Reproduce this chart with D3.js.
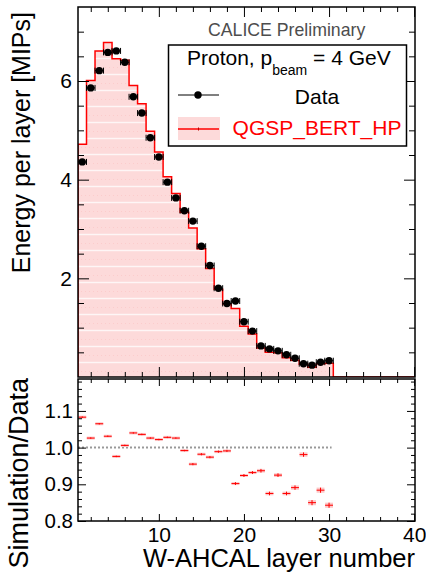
<!DOCTYPE html>
<html><head><meta charset="utf-8">
<script src="https://cdn.jsdelivr.net/npm/d3@7"></script>
<style>body{margin:0;background:#fff}svg{display:block}</style>
</head><body>
<svg id="c" width="426" height="576"></svg>
<script>
// ---- data ----
const layers = [1,2,3,4,5,6,7,8,9,10,11,12,13,14,15,16,17,18,19,20,21,22,23,24,25,26,27,28,29,30];
const dataValues = [4.36,5.86,6.21,6.58,6.61,6.38,5.68,5.35,4.85,4.46,3.95,3.63,3.37,3.16,2.65,2.26,1.80,1.49,1.54,1.12,0.93,0.63,0.57,0.53,0.45,0.38,0.27,0.24,0.30,0.33];
const mcValues = [4.72,6.01,6.61,6.78,6.45,6.42,5.91,5.54,4.98,4.56,4.06,3.72,3.34,3.02,2.60,2.20,1.78,1.48,1.39,1.03,0.87,0.59,0.50,0.49,0.39,0.34,0.26,0.20,0.27,0.28];
const ratioValues = [1.083,1.026,1.065,1.031,0.976,1.006,1.040,1.036,1.026,1.022,1.028,1.026,0.992,0.955,0.982,0.974,0.989,0.991,0.902,0.924,0.932,0.937,0.875,0.925,0.875,0.891,0.981,0.850,0.884,0.843];
const ratioErrors = [0.002,0.002,0.002,0.002,0.002,0.002,0.002,0.002,0.002,0.002,0.002,0.002,0.002,0.003,0.003,0.003,0.003,0.003,0.004,0.004,0.004,0.005,0.005,0.005,0.005,0.006,0.006,0.007,0.007,0.007];
const yTopMajor = [2,4,6];
const yTopMinor = [0.5,1,1.5,2.5,3,3.5,4.5,5,5.5,6.5,7];
const yLowMajor = [0.8,0.9,1.0,1.1];
const yLowMinor = [0.82,0.84,0.86,0.88,0.92,0.94,0.96,0.98,1.02,1.04,1.06,1.08,1.12,1.14,1.16,1.18];
const xMajor = [10,20,30,40];
const xMinor = [2,4,6,8,12,14,16,18,22,24,26,28,32,34,36,38];

const FONT = "'Liberation Sans', Arial, Helvetica, sans-serif";
const svg = d3.select("#c");
const L = 78, R = 415, T1 = 7, B1 = 377, T2 = 379, B2 = 521;

const x = d3.scaleLinear().domain([0.5, 40.1]).range([L, R]);
const yTop = d3.scaleLinear().domain([0, 7.5]).range([B1, T1]);
const yLow = d3.scaleLinear().domain([0.8, 1.187]).range([B2, T2]);

// pattern fill
const defs = svg.append("defs");
const pat = defs.append("pattern").attr("id","hatch").attr("patternUnits","userSpaceOnUse")
  .attr("width",4).attr("height",16).attr("y",0);
pat.append("rect").attr("width",4).attr("height",16).attr("fill","#fddada");
pat.append("rect").attr("x",0).attr("y",9.8).attr("width",4).attr("height",1.4).attr("fill","#ffffff").attr("opacity",0.75);
pat.append("rect").attr("x",1).attr("y",3).attr("width",1).attr("height",1).attr("fill","#fccccc");
defs.append("clipPath").attr("id","clipTop").append("rect").attr("x",L).attr("y",T1).attr("width",R-L).attr("height",B1-T1);

// ---- top panel ----
const gTop = svg.append("g").attr("clip-path","url(#clipTop)");
const histPts = layers.map((l,i)=>[l-0.5, mcValues[i]]);
histPts.push([layers[layers.length-1]+0.5, mcValues[mcValues.length-1]]);
const area = d3.area().curve(d3.curveStepAfter)
  .x(d=>x(d[0])).y0(yTop(0)).y1(d=>yTop(d[1]));
gTop.append("path").attr("d", area(histPts)).attr("fill","url(#hatch)");
const linePts = [[0.5,0]].concat(layers.map((l,i)=>[l-0.5, mcValues[i]]));
linePts.push([30.5,0]); linePts.push([40.1,0]);
const line = d3.line().curve(d3.curveStepAfter).x(d=>x(d[0])).y(d=>yTop(d[1]));
gTop.append("path").attr("d", line(linePts)).attr("fill","none").attr("stroke","#ff0000").attr("stroke-width",1.5);

// data points
const pts = gTop.append("g");
layers.forEach((l,i)=>{
  const cx = x(l), cy = yTop(dataValues[i]);
  const x0 = x(l-0.5), x1 = x(l+0.5);
  pts.append("line").attr("x1",x0).attr("x2",x1).attr("y1",cy).attr("y2",cy).attr("stroke","#000").attr("stroke-width",1);
  [x0,x1].forEach(xx=>pts.append("line").attr("x1",xx).attr("x2",xx).attr("y1",cy-3).attr("y2",cy+3).attr("stroke","#000").attr("stroke-width",1));
  pts.append("circle").attr("cx",cx).attr("cy",cy).attr("r",3.7).attr("fill","#000");
});

// axes for top panel
function styleAxis(g, fs){
  g.select(".domain").remove();
  g.selectAll(".tick line").attr("stroke","#000").attr("stroke-width",1);
  g.selectAll("text").attr("font-family",FONT).attr("font-size",fs).attr("fill","#000");
}
svg.append("g").attr("transform",`translate(${L},0)`)
  .call(d3.axisLeft(yTop).tickValues(yTopMajor).tickSize(-11).tickPadding(6).tickFormat(d3.format("d")))
  .call(g=>styleAxis(g,21));
svg.append("g").attr("transform",`translate(${L},0)`)
  .call(d3.axisLeft(yTop).tickValues(yTopMinor).tickSize(-6).tickFormat("")).call(g=>styleAxis(g,21));
svg.append("g").attr("transform",`translate(${R},0)`)
  .call(d3.axisRight(yTop).tickValues(yTopMajor).tickSize(-11).tickFormat("")).call(g=>styleAxis(g,21));
svg.append("g").attr("transform",`translate(${R},0)`)
  .call(d3.axisRight(yTop).tickValues(yTopMinor).tickSize(-6).tickFormat("")).call(g=>styleAxis(g,21));
svg.append("g").attr("transform",`translate(0,${B1})`)
  .call(d3.axisBottom(x).tickValues(xMajor).tickSize(-10).tickFormat("")).call(g=>styleAxis(g,21));
svg.append("g").attr("transform",`translate(0,${B1})`)
  .call(d3.axisBottom(x).tickValues(xMinor).tickSize(-5).tickFormat("")).call(g=>styleAxis(g,21));
svg.append("g").attr("transform",`translate(0,${T1})`)
  .call(d3.axisTop(x).tickValues(xMajor).tickSize(-10).tickFormat("")).call(g=>styleAxis(g,21));
svg.append("g").attr("transform",`translate(0,${T1})`)
  .call(d3.axisTop(x).tickValues(xMinor).tickSize(-5).tickFormat("")).call(g=>styleAxis(g,21));

svg.append("rect").attr("x",L).attr("y",T1).attr("width",R-L).attr("height",B1-T1)
  .attr("fill","none").attr("stroke","#000").attr("stroke-width",1.5);

// CALICE Preliminary
svg.append("text").attr("x",208).attr("y",36).attr("font-family",FONT).attr("font-size",17.7)
  .attr("fill","#4d4d4d").text("CALICE Preliminary");

// legend
const lg = svg.append("g");
lg.append("rect").attr("x",168.5).attr("y",45).attr("width",238).attr("height",101)
  .attr("fill","#fff").attr("stroke","#000").attr("stroke-width",1.5);
const t1 = lg.append("text").attr("x",187).attr("y",65).attr("font-family",FONT).attr("font-size",21).attr("fill","#000");
t1.append("tspan").text("Proton, p");
t1.append("tspan").attr("font-size",14).attr("dy",10).text("beam");
t1.append("tspan").attr("dy",-10).text(" = 4 GeV");
lg.append("line").attr("x1",178).attr("x2",219).attr("y1",95).attr("y2",95).attr("stroke","#000").attr("stroke-width",1);
lg.append("circle").attr("cx",198).attr("cy",95).attr("r",3.7).attr("fill","#000");
lg.append("text").attr("x",317).attr("y",103.5).attr("text-anchor","middle").attr("font-family",FONT).attr("font-size",21).attr("fill","#000").text("Data");
lg.append("rect").attr("x",178).attr("y",117).attr("width",42).attr("height",23).attr("fill","#fddada");
lg.append("line").attr("x1",178).attr("x2",219).attr("y1",129).attr("y2",129).attr("stroke","#ff0000").attr("stroke-width",1.5);
lg.append("line").attr("x1",198.5).attr("x2",198.5).attr("y1",127.5).attr("y2",130.5).attr("stroke","#b00").attr("stroke-width",1);
lg.append("text").attr("x",317).attr("y",134.5).attr("text-anchor","middle").attr("font-family",FONT).attr("font-size",21).attr("fill","#ff0000").text("QGSP_BERT_HP");

// ---- lower panel ----
svg.append("line").attr("x1",x(0.5)).attr("x2",x(30.3)).attr("y1",yLow(1)).attr("y2",yLow(1))
  .attr("stroke","#999").attr("stroke-width",2).attr("stroke-dasharray","2,2");
const rg = svg.append("g");
layers.forEach((l,i)=>{
  const x0 = x(l-0.5)+0.3, x1 = x(l+0.5)-0.3, cy = yLow(ratioValues[i]);
  const e = Math.abs(yLow(ratioValues[i]+ratioErrors[i]) - cy);
  rg.append("rect").attr("x",x0).attr("y",cy-Math.max(e,1.5)).attr("width",x1-x0).attr("height",2*Math.max(e,1.5)).attr("fill","#fcc8c8");
  rg.append("line").attr("x1",x0).attr("x2",x1).attr("y1",cy).attr("y2",cy).attr("stroke","#ff0000").attr("stroke-width",1);
  rg.append("line").attr("x1",x(l)).attr("x2",x(l)).attr("y1",cy-e).attr("y2",cy+e).attr("stroke","#ff0000").attr("stroke-width",1);
});

svg.append("g").attr("transform",`translate(${L},0)`)
  .call(d3.axisLeft(yLow).tickValues(yLowMajor).tickSize(-8).tickPadding(5).tickFormat(d3.format(".1f")))
  .call(g=>styleAxis(g,20.5));
svg.append("g").attr("transform",`translate(${L},0)`)
  .call(d3.axisLeft(yLow).tickValues(yLowMinor).tickSize(-4).tickFormat("")).call(g=>styleAxis(g,20));
svg.append("g").attr("transform",`translate(${R},0)`)
  .call(d3.axisRight(yLow).tickValues(yLowMajor).tickSize(-8).tickFormat("")).call(g=>styleAxis(g,20));
svg.append("g").attr("transform",`translate(${R},0)`)
  .call(d3.axisRight(yLow).tickValues(yLowMinor).tickSize(-4).tickFormat("")).call(g=>styleAxis(g,20));
svg.append("g").attr("transform",`translate(0,${B2})`)
  .call(d3.axisBottom(x).tickValues(xMajor).tickSize(-7).tickPadding(6).tickFormat(d3.format("d")))
  .call(g=>styleAxis(g,21));
svg.append("g").attr("transform",`translate(0,${B2})`)
  .call(d3.axisBottom(x).tickValues(xMinor).tickSize(-4).tickFormat("")).call(g=>styleAxis(g,21));
svg.append("g").attr("transform",`translate(0,${T2})`)
  .call(d3.axisTop(x).tickValues(xMajor).tickSize(-7).tickFormat("")).call(g=>styleAxis(g,21));
svg.append("g").attr("transform",`translate(0,${T2})`)
  .call(d3.axisTop(x).tickValues(xMinor).tickSize(-4).tickFormat("")).call(g=>styleAxis(g,21));

svg.append("rect").attr("x",L).attr("y",T2).attr("width",R-L).attr("height",B2-T2)
  .attr("fill","none").attr("stroke","#000").attr("stroke-width",1.5);

// axis titles
svg.append("text").attr("transform","translate(30,12) rotate(-90)").attr("text-anchor","end")
  .attr("font-family",FONT).attr("font-size",25).attr("fill","#000").text("Energy per layer [MIPs]");
svg.append("text").attr("transform","translate(28,378) rotate(-90)").attr("text-anchor","end")
  .attr("font-family",FONT).attr("font-size",27).attr("fill","#000").text("Simulation/Data");
svg.append("text").attr("x",415).attr("y",567).attr("text-anchor","end")
  .attr("font-family",FONT).attr("font-size",25.5).attr("fill","#000").text("W-AHCAL layer number");
</script>
</body></html>
